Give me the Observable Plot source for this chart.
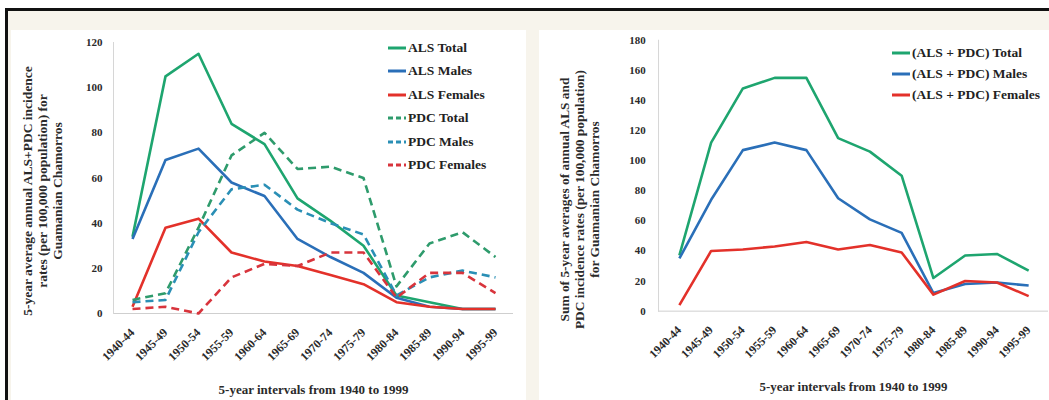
<!DOCTYPE html>
<html>
<head>
<meta charset="utf-8">
<script src="https://cdn.jsdelivr.net/npm/d3@7"></script>
<script src="https://cdn.jsdelivr.net/npm/@observablehq/plot@0.6"></script>
<style>
html,body{margin:0;padding:0;background:#fff;width:1049px;height:400px;overflow:hidden;font-family:"Liberation Serif","Times New Roman",serif;}
#frame{position:absolute;left:5px;top:8px;width:1050px;height:400px;border-top:3px solid #111;border-left:3px solid #111;background:#f7f4ec;box-sizing:border-box}
.panel{position:absolute;background:#fff}
#pl{left:11px;top:30px;width:515px;height:380px}
#pr{left:539px;top:30px;width:520px;height:380px}
.chart{position:absolute}
#c1{left:8px;top:10px}
#c2{left:535px;top:10px}
.legend{position:absolute;font-family:"Liberation Serif","Times New Roman",serif;font-weight:bold;color:#222;white-space:nowrap}
.legend .row{display:flex;align-items:center}
.legend svg{flex:none;margin-right:2px}
</style>
</head>
<body>
<div id="frame"></div>
<div class="panel" id="pl"></div>
<div class="panel" id="pr"></div>
<div class="chart" id="c1"></div>
<div class="chart" id="c2"></div>
<div class="legend" id="lg1" style="left:388px;top:36px;font-size:13.5px"></div>
<div class="legend" id="lg2" style="left:892px;top:42px;font-size:13.5px"></div>
<script>
// ---- data ----
const periods = ["1940-44","1945-49","1950-54","1955-59","1960-64","1965-69","1970-74","1975-79","1980-84","1985-89","1990-94","1995-99"];

// left chart: 5-year average annual incidence rates
const alsTotal   = [34, 105, 115, 84, 75, 51, 41, 30, 8, 5, 2, 2];
const alsMales   = [33, 68, 73, 58, 52, 33, 25, 18, 7, 3, 2, 2];
const alsFemales = [3, 38, 42, 27, 23, 21, 17, 13, 5, 3, 2, 2];
const pdcTotal   = [6, 9, 38, 70, 80, 64, 65, 60, 12, 31, 36, 25];
const pdcMales   = [5, 6, 36, 55, 57, 46, 40, 35, 8, 16, 19, 16];
const pdcFemales = [2, 3, 0, 16, 22, 21, 27, 27, 7, 18, 18, 9];

// right chart: sums of ALS and PDC
const sumTotal   = [37, 112, 148, 155, 155, 115, 106, 90, 22, 37, 38, 27];
const sumMales   = [35, 74, 107, 112, 107, 75, 61, 52, 12, 18, 19, 17];
const sumFemales = [4, 40, 41, 43, 46, 41, 44, 39, 11, 20, 19, 10];

const yTicksLeft  = [0, 20, 40, 60, 80, 100, 120];
const yTicksRight = [0, 20, 40, 60, 80, 100, 120, 140, 160, 180];

const leftSeries = [
  {name: "ALS Total",   values: alsTotal,   color: "#1ea56f", dash: null},
  {name: "ALS Males",   values: alsMales,   color: "#2a6fb8", dash: null},
  {name: "ALS Females", values: alsFemales, color: "#e3312a", dash: null},
  {name: "PDC Total",   values: pdcTotal,   color: "#2e9b6c", dash: "8,5"},
  {name: "PDC Males",   values: pdcMales,   color: "#2a8fb5", dash: "8,5"},
  {name: "PDC Females", values: pdcFemales, color: "#d8343c", dash: "8,5"}
];
const rightSeries = [
  {name: "(ALS + PDC) Total",   values: sumTotal,   color: "#1ea56f", dash: null},
  {name: "(ALS + PDC) Males",   values: sumMales,   color: "#2a6fb8", dash: null},
  {name: "(ALS + PDC) Females", values: sumFemales, color: "#e3312a", dash: null}
];

const xLabel = "5-year intervals from 1940 to 1999";
const yLabelLeft = "5-year average annual ALS+PDC incidence\nrates (per 100,000 population) for\nGuamanian Chamorros";
const yLabelRight = "Sum of 5-year averages of annual ALS and\nPDC incidence rates (per 100,000 population)\nfor Guamanian Chamorros";

function rows(vals){ return periods.map((p,i)=>({period:p, value:vals[i]})); }

function makeChart(series, yMax, yTicks, opts){
  const lineMarks = series.map(s => Plot.line(rows(s.values), {
    x: "period", y: "value", stroke: s.color, strokeWidth: 2.6,
    strokeDasharray: s.dash || undefined, strokeLinejoin: "round", strokeLinecap: "butt"
  }));
  return Plot.plot({
    width: opts.width, height: 390,
    marginLeft: opts.ml, marginRight: opts.mr, marginTop: opts.mt, marginBottom: 87,
    style: {fontFamily: "'Liberation Serif','Times New Roman',serif", fontWeight: "bold", fontSize: "11px", color: "#2a2a2a", background: "transparent", overflow: "visible"},
    x: {type: "point", domain: periods, padding: 0.5},
    y: {domain: [0, yMax]},
    marks: [
      Plot.ruleY([0], {stroke: "#cfcfcf", strokeWidth: 1}),
      Plot.frame({anchor: "left", stroke: "#d6d6d6"}),
      Plot.axisY({ticks: yTicks, tickSize: 0, tickPadding: opts.tp, label: null, fontSize: 11}),
      Plot.axisX({tickRotate: -45, tickSize: 0, tickPadding: 17, label: null, fontSize: 12}),
      ...lineMarks,
      Plot.text([xLabel], {frameAnchor: "bottom", dy: 76, lineAnchor: "middle", fontSize: 13, fill: "#2a2a2a"}),
      Plot.text([opts.ylabel], {frameAnchor: "left", rotate: -90, dx: opts.ydx, dy: opts.ydy, lineAnchor: "middle", textAnchor: "middle", lineHeight: 1.1, fontSize: 13.5, fill: "#2a2a2a"})
    ]
  });
}

document.getElementById("c1").append(makeChart(leftSeries, 120, yTicksLeft,
  {width: 512, ml: 105, mr: 7, mt: 32, tp: 11, ylabel: yLabelLeft, ydx: -71, ydy: 13}));
document.getElementById("c2").append(makeChart(rightSeries, 180, yTicksRight,
  {width: 518, ml: 124, mr: 1, mt: 30, tp: 13, ylabel: yLabelRight, ydx: -80, ydy: 24}));

function legend(id, series, rowH){
  const el = document.getElementById(id);
  series.forEach(s => {
    const r = document.createElement("div");
    r.className = "row";
    r.style.height = rowH + "px";
    r.innerHTML = `<svg width="18" height="6"><line x1="0" y1="3" x2="18" y2="3" stroke="${s.color}" stroke-width="3" ${s.dash ? 'stroke-dasharray="5,3"' : ''}/></svg><span>${s.name}</span>`;
    el.append(r);
  });
}
legend("lg1", leftSeries, 23.5);
legend("lg2", rightSeries, 21);
</script>
</body>
</html>
